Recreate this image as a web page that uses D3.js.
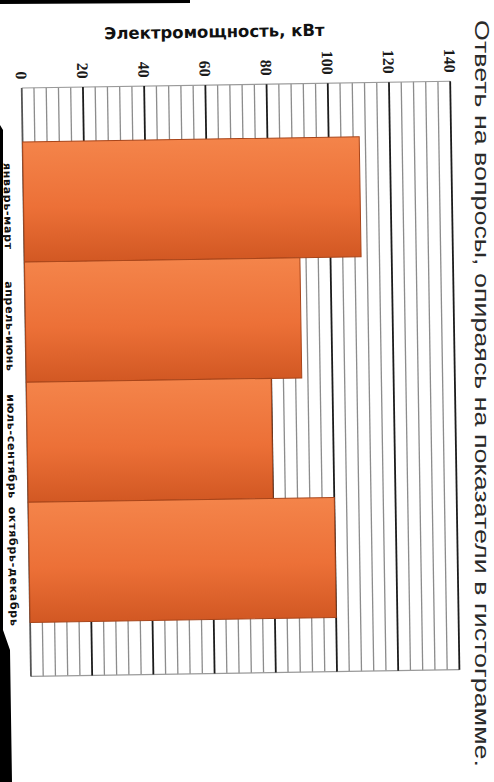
<!DOCTYPE html>
<html>
<head>
<meta charset="utf-8">
<script src="https://cdn.jsdelivr.net/npm/d3@7"></script>
<style>
  html, body { margin: 0; padding: 0; background: #fff; }
  svg { display: block; }
</style>
</head>
<body>
<div id="chart"></div>
<script>
var categories = ['январь-март', 'апрель-июнь', 'июль-сентябрь', 'октябрь-декабрь'];
var values = [110, 90, 80, 100];
var tickValues = [0, 20, 40, 60, 80, 100, 120, 140];
var minorStep = 4;
var axisTitle = 'Электромощность, кВт';
var question = 'Ответь на вопросы, опираясь на показатели в гистограмме.';

var width = 494, height = 782;

var svg = d3.select('#chart').append('svg')
    .attr('width', width)
    .attr('height', height);

var defs = svg.append('defs');
var grad = defs.append('linearGradient')
    .attr('id', 'barFill')
    .attr('x1', 0).attr('y1', 0).attr('x2', 0).attr('y2', 1);
grad.append('stop').attr('offset', '0%').attr('stop-color', '#f4844a');
grad.append('stop').attr('offset', '55%').attr('stop-color', '#ec7037');
grad.append('stop').attr('offset', '100%').attr('stop-color', '#d25823');

svg.append('rect').attr('width', width).attr('height', height).attr('fill', '#fff');

// dark edges of the photo
svg.append('path')
    .attr('d', 'M0,125 L3,130 L3,630 L10,650 L12,782 L0,782 Z')
    .attr('fill', '#000');
svg.append('path')
    .attr('d', 'M0,0 L190,0 L190,3 L0,4 Z')
    .attr('fill', '#000');

// the photo is slightly tilted
var g = svg.append('g').attr('transform', 'rotate(-0.9,247,390)');

var x = d3.scaleLinear()
    .domain([0, 140])
    .range([26.5, 455]);

var y = d3.scaleBand()
    .domain(categories)
    .range([84.5, 673])
    .paddingInner(0)
    .paddingOuter(0.45);

// grid: minor lines every 4, major every 20
var minor = d3.range(0, 140 + 0.001, minorStep).filter(function(d) { return d % 20 !== 0; });

g.append('g').selectAll('line')
  .data(minor)
  .enter().append('line')
    .attr('x1', function(d) { return x(d); })
    .attr('x2', function(d) { return x(d); })
    .attr('y1', y.range()[0])
    .attr('y2', y.range()[1])
    .attr('stroke', '#8c8c8c')
    .attr('stroke-width', 1.3);

g.append('g').selectAll('line')
  .data([y.range()[0], y.range()[1]])
  .enter().append('line')
    .attr('x1', x(0))
    .attr('x2', x(140))
    .attr('y1', function(d) { return d; })
    .attr('y2', function(d) { return d; })
    .attr('stroke', '#9a9a9a')
    .attr('stroke-width', 1.2);

g.append('g').selectAll('line')
  .data(tickValues)
  .enter().append('line')
    .attr('x1', function(d) { return x(d); })
    .attr('x2', function(d) { return x(d); })
    .attr('y1', y.range()[0])
    .attr('y2', y.range()[1])
    .attr('stroke', function(d) { return d === 0 ? '#555' : '#1c1c1c'; })
    .attr('stroke-width', 1.8);

// bars
g.append('g').selectAll('rect')
  .data(values)
  .enter().append('rect')
    .attr('x', x(0))
    .attr('y', function(d, i) { return y(categories[i]); })
    .attr('width', function(d) { return x(d) - x(0); })
    .attr('height', y.bandwidth())
    .attr('fill', 'url(#barFill)')
    .attr('stroke', '#a8451a')
    .attr('stroke-width', 1);

// value tick labels (rotated)
g.append('g').selectAll('text')
  .data(tickValues)
  .enter().append('text')
    .attr('transform', function(d) { return 'translate(' + x(d) + ',76) rotate(90)'; })
    .attr('text-anchor', 'end')
    .attr('dy', '0.35em')
    .style('font-family', '"Liberation Serif", serif')
    .style('font-weight', 'bold')
    .style('font-size', '16px')
    .attr('fill', '#1a1a1a')
    .text(function(d) { return d; });

// category labels (rotated)
g.append('g').selectAll('text')
  .data(categories)
  .enter().append('text')
    .attr('transform', function(d) { return 'translate(7,' + (y(d) + y.bandwidth() / 2 + 4) + ') rotate(90)'; })
    .attr('text-anchor', 'middle')
    .style('font-family', '"DejaVu Sans", sans-serif')
    .style('font-weight', 'bold')
    .style('font-size', '11px')
    .style('letter-spacing', '0.7px')
    .attr('fill', '#111')
    .text(function(d) { return d; });

// axis title
g.append('text')
    .attr('x', 220)
    .attr('y', 37)
    .attr('text-anchor', 'middle')
    .style('font-family', '"DejaVu Sans", sans-serif')
    .style('font-weight', 'bold')
    .style('font-size', '16.5px')
    .attr('fill', '#111')
    .text(axisTitle);

// question text on the right (kept untilted so it stays inside the page)
svg.append('text')
    .attr('transform', 'translate(475,20) rotate(90)')
    .attr('textLength', 747)
    .attr('lengthAdjust', 'spacingAndGlyphs')
    .style('font-family', '"Liberation Sans", sans-serif')
    .style('font-size', '20px')
    .attr('fill', '#2a2a2a')
    .text(question);
</script>
</body>
</html>
